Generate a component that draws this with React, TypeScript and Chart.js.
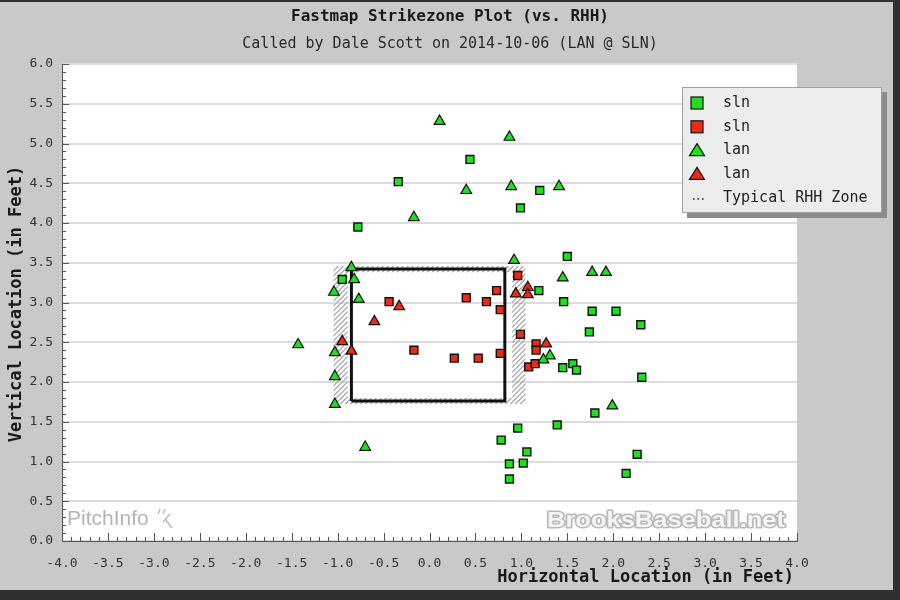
import { useEffect, useRef } from 'react';
import { Chart, registerables } from 'chart.js';

Chart.register(...registerables);

// ---------- data ----------
const titleText = 'Fastmap Strikezone Plot (vs. RHH)';
const subtitleText = 'Called by Dale Scott on 2014-10-06 (LAN @ SLN)';
const xAxisTitle = 'Horizontal Location (in Feet)';
const yAxisTitle = 'Vertical Location (in Feet)';

const xMin = -4.0;
const xMax = 4.0;
const yMin = 0.0;
const yMax = 6.0;
const tickStep = 0.5;
const minorStep = 0.1;

// sln (green squares)
const slnGreenX = [-0.34, -0.78, 0.44, 0.99, 1.20, 1.50, 1.19, 1.46, 1.77, 2.03, 1.74, 2.30, 1.45, 1.56, 1.60, 2.31, -0.95, 1.80, 1.39, 0.96, 0.78, 1.06, 0.87, 1.02, 0.87, 2.26, 2.14];
const slnGreenY = [4.52, 3.95, 4.80, 4.19, 4.41, 3.58, 3.15, 3.01, 2.89, 2.89, 2.63, 2.72, 2.18, 2.23, 2.15, 2.06, 3.29, 1.61, 1.46, 1.42, 1.27, 1.12, 0.97, 0.98, 0.78, 1.09, 0.85];

// sln (red squares)
const slnRedX = [-0.44, -0.17, 0.40, 0.73, 0.62, 0.77, 0.27, 0.53, 0.77, 0.96, 0.99, 1.16, 1.16, 1.08, 1.15];
const slnRedY = [3.01, 2.40, 3.06, 3.15, 3.01, 2.91, 2.30, 2.30, 2.36, 3.34, 2.60, 2.48, 2.40, 2.19, 2.23];

// lan (green triangles)
const lanGreenX = [0.11, 0.87, 0.40, 0.89, 1.41, -0.17, 0.92, 1.77, 1.92, 1.45, 1.99, 1.31, 1.24, -0.85, -0.82, -1.04, -0.77, -1.43, -1.03, -1.03, -1.03, -0.70];
const lanGreenY = [5.28, 5.08, 4.41, 4.46, 4.46, 4.07, 3.53, 3.38, 3.38, 3.31, 1.70, 2.33, 2.28, 3.44, 3.29, 3.13, 3.04, 2.47, 2.37, 2.07, 1.72, 1.18];

// lan (red triangles)
const lanRedX = [-0.33, -0.60, -0.95, -0.85, 0.94, 1.07, 1.07, 1.27];
const lanRedY = [2.95, 2.76, 2.51, 2.39, 3.11, 3.19, 3.10, 2.48];

// called zone (black box)
const zoneX = [-0.85, -0.85, 0.82, 0.82, -0.85];
const zoneY = [1.76, 3.42, 3.42, 1.76, 1.76];

// typical RHH zone band (outer / inner edges)
const typicalOuterX = [-1.045, 1.045];
const typicalOuterY = [1.72, 3.46];
const typicalInnerX = [-0.89, 0.90];
const typicalInnerY = [1.80, 3.38];

const legendLabels = ['sln', 'sln', 'lan', 'lan', 'Typical RHH Zone'];

const GREEN = '#1ee01e';
const RED = '#ee2a12';

const toPoints = (xs: number[], ys: number[]) => xs.map((x, i) => ({ x, y: ys[i] }));

const MONO = '"DejaVu Sans Mono", monospace';

const backgroundPlugin = {
  id: 'bgPlugin',
  beforeDraw(chart: any) {
    const { ctx, chartArea, width, height } = chart;
    ctx.save();
    ctx.fillStyle = '#303030';
    ctx.fillRect(0, 0, width, height);
    ctx.fillStyle = '#c9c9c9';
    ctx.fillRect(0, 2, 893, 588);
    ctx.fillStyle = '#ffffff';
    ctx.fillRect(chartArea.left, chartArea.top, chartArea.right - chartArea.left, chartArea.bottom - chartArea.top);

    // titles
    ctx.fillStyle = '#1a1a1a';
    ctx.textAlign = 'center';
    ctx.textBaseline = 'middle';
    ctx.font = `bold 16px ${MONO}`;
    ctx.fillText(titleText, 450, 17);
    ctx.font = `15px ${MONO}`;
    ctx.fillStyle = '#2a2a2a';
    ctx.fillText(subtitleText, 450, 44);

    // axis titles
    ctx.font = `bold 17px ${MONO}`;
    ctx.fillStyle = '#1a1a1a';
    ctx.textAlign = 'right';
    ctx.fillText(xAxisTitle, chartArea.right - 3, 578);
    ctx.save();
    ctx.translate(17, 304);
    ctx.rotate(-Math.PI / 2);
    ctx.textAlign = 'center';
    ctx.fillText(yAxisTitle, 0, 0);
    ctx.restore();
    ctx.restore();
  },
};

const hatchPlugin = {
  id: 'hatchPlugin',
  beforeDatasetsDraw(chart: any) {
    const { ctx, scales } = chart;
    const x = scales.x;
    const y = scales.y;
    const ox1 = x.getPixelForValue(typicalOuterX[0]);
    const ox2 = x.getPixelForValue(typicalOuterX[1]);
    const oy1 = y.getPixelForValue(typicalOuterY[1]);
    const oy2 = y.getPixelForValue(typicalOuterY[0]);
    const ix1 = x.getPixelForValue(typicalInnerX[0]);
    const ix2 = x.getPixelForValue(typicalInnerX[1]);
    const iy1 = y.getPixelForValue(typicalInnerY[1]);
    const iy2 = y.getPixelForValue(typicalInnerY[0]);
    ctx.save();
    ctx.beginPath();
    ctx.rect(ox1, oy1, ox2 - ox1, oy2 - oy1);
    ctx.rect(ix1, iy1, ix2 - ix1, iy2 - iy1);
    ctx.clip('evenodd');
    ctx.strokeStyle = '#a8a8a8';
    ctx.lineWidth = 1.3;
    ctx.beginPath();
    const h = oy2 - oy1;
    for (let d = -h; d < ox2 - ox1 + h; d += 5) {
      ctx.moveTo(ox1 + d, oy2);
      ctx.lineTo(ox1 + d + h, oy1);
    }
    ctx.stroke();
    ctx.restore();

    // watermarks
    const ca = chart.chartArea;
    ctx.save();
    ctx.textBaseline = 'middle';
    ctx.textAlign = 'left';
    ctx.font = '21px "Liberation Sans", Arial, sans-serif';
    ctx.fillStyle = '#b4b4b4';
    ctx.fillText('PitchInfo', ca.left + 5, 519);
    ctx.strokeStyle = '#bdbdbd';
    ctx.lineWidth = 1.5;
    ctx.beginPath();
    ctx.moveTo(160, 509); ctx.lineTo(158, 514);
    ctx.moveTo(165, 509); ctx.lineTo(163, 514);
    ctx.moveTo(170, 514); ctx.lineTo(163, 522);
    ctx.moveTo(165, 519); ctx.lineTo(172, 528);
    ctx.stroke();

    ctx.font = 'bold 22px "Liberation Sans", Arial, sans-serif';
    const wm = 'BrooksBaseball.net';
    const w = ctx.measureText(wm).width;
    const target = 238;
    ctx.translate(ca.right - 12 - target, 521);
    ctx.scale(target / w, 1);
    ctx.lineWidth = 3;
    ctx.strokeStyle = '#b8b8b8';
    ctx.lineJoin = 'round';
    ctx.strokeText(wm, 0, 0);
    ctx.fillStyle = '#f4f4f4';
    ctx.fillText(wm, 0, 0);
    ctx.restore();
  },
};

const ticksPlugin = {
  id: 'ticksPlugin',
  afterDatasetsDraw(chart: any) {
    const { ctx, scales, chartArea } = chart;
    ctx.save();
    ctx.strokeStyle = '#555555';
    ctx.lineWidth = 1;
    ctx.beginPath();
    const nY = Math.round((yMax - yMin) / minorStep);
    for (let i = 0; i <= nY; i++) {
      const v = yMin + i * minorStep;
      const py = Math.round(scales.y.getPixelForValue(v)) + 0.5;
      const len = i % 5 === 0 ? 7 : 4;
      ctx.moveTo(chartArea.left, py);
      ctx.lineTo(chartArea.left + len, py);
    }
    const nX = Math.round((xMax - xMin) / minorStep);
    for (let i = 0; i <= nX; i++) {
      const v = xMin + i * minorStep;
      const px = Math.round(scales.x.getPixelForValue(v)) + 0.5;
      const len = i % 5 === 0 ? 8 : 4;
      ctx.moveTo(px, chartArea.bottom);
      ctx.lineTo(px, chartArea.bottom - len);
    }
    ctx.stroke();
    ctx.restore();
  },
};

const legendPlugin = {
  id: 'customLegend',
  afterDraw(chart: any) {
    const { ctx } = chart;
    const lx = 682;
    const ly = 87;
    const lw = 200;
    const lh = 126;
    ctx.save();
    ctx.fillStyle = '#8c8c8c';
    ctx.fillRect(lx + 5, ly + 5, lw, lh);
    ctx.fillStyle = '#ececec';
    ctx.fillRect(lx, ly, lw, lh);
    ctx.strokeStyle = '#a0a0a0';
    ctx.lineWidth = 1;
    ctx.strokeRect(lx + 0.5, ly + 0.5, lw - 1, lh - 1);

    const colors = [GREEN, RED, GREEN, RED];
    const mx = 697;
    ctx.font = `15px ${MONO}`;
    ctx.textBaseline = 'middle';
    ctx.textAlign = 'left';
    legendLabels.forEach((label, i) => {
      const cy = 103 + i * 23.8;
      ctx.lineWidth = 1.2;
      ctx.strokeStyle = '#111';
      if (i < 2) {
        ctx.fillStyle = colors[i];
        ctx.fillRect(mx - 6, cy - 6, 12, 12);
        ctx.strokeRect(mx - 6, cy - 6, 12, 12);
      } else if (i < 4) {
        ctx.fillStyle = colors[i];
        ctx.beginPath();
        ctx.moveTo(mx, cy - 7);
        ctx.lineTo(mx + 7.5, cy + 5);
        ctx.lineTo(mx - 7.5, cy + 5);
        ctx.closePath();
        ctx.fill();
        ctx.stroke();
      } else {
        ctx.fillStyle = '#333';
        for (let k = 0; k < 3; k++) {
          ctx.fillRect(mx - 4 + k * 4.5, cy, 1.6, 1.6);
        }
      }
      ctx.fillStyle = '#222';
      ctx.fillText(label, 723, cy);
    });
    ctx.restore();
  },
};

export default function App() {
  const canvasRef = useRef<HTMLCanvasElement | null>(null);

  useEffect(() => {
    document.body.style.margin = '0';
    const canvas = canvasRef.current;
    if (!canvas) return;
    const chart = new Chart(canvas, {
      type: 'scatter',
      data: {
        datasets: [
          {
            label: 'sln',
            data: toPoints(slnGreenX, slnGreenY),
            pointStyle: 'rect',
            pointRadius: 5.6,
            backgroundColor: GREEN,
            borderColor: '#111',
            borderWidth: 1.4,
            order: 1,
          },
          {
            label: 'sln',
            data: toPoints(slnRedX, slnRedY),
            pointStyle: 'rect',
            pointRadius: 5.6,
            backgroundColor: RED,
            borderColor: '#111',
            borderWidth: 1.4,
            order: 1,
          },
          {
            label: 'lan',
            data: toPoints(lanGreenX, lanGreenY),
            pointStyle: 'triangle',
            pointRadius: 6.2,
            backgroundColor: GREEN,
            borderColor: '#111',
            borderWidth: 1.2,
            order: 0,
          },
          {
            label: 'lan',
            data: toPoints(lanRedX, lanRedY),
            pointStyle: 'triangle',
            pointRadius: 6.2,
            backgroundColor: RED,
            borderColor: '#111',
            borderWidth: 1.2,
            order: 0,
          },
          {
            label: 'zone',
            data: toPoints(zoneX, zoneY),
            showLine: true,
            pointRadius: 0,
            borderColor: '#111111',
            borderWidth: 3,
            fill: false,
            order: 5,
          } as any,
        ],
      },
      options: {
        animation: false,
        responsive: true,
        maintainAspectRatio: false,
        layout: { padding: { top: 64, right: 103, left: 0, bottom: 0 } },
        plugins: {
          legend: { display: false },
          title: { display: false },
          tooltip: { enabled: false },
        },
        scales: {
          x: {
            type: 'linear',
            min: xMin,
            max: xMax,
            afterFit: (scale: any) => {
              scale.height = 59;
            },
            ticks: {
              stepSize: tickStep,
              autoSkip: false,
              maxRotation: 0,
              padding: 15,
              color: '#333',
              font: { family: MONO, size: 13 },
              callback: (v: any) => Number(v).toFixed(1),
            },
            grid: { display: false, drawTicks: false },
            border: { display: true, color: '#555', width: 1 },
          },
          y: {
            type: 'linear',
            min: yMin,
            max: yMax,
            afterFit: (scale: any) => {
              scale.width = 62;
            },
            ticks: {
              stepSize: tickStep,
              padding: 9,
              color: '#333',
              font: { family: MONO, size: 13 },
              callback: (v: any) => Number(v).toFixed(1),
            },
            grid: { color: '#dcdcdc', lineWidth: 2, drawTicks: false },
            border: { display: true, color: '#555', width: 1 },
          },
        },
      },
      plugins: [backgroundPlugin, hatchPlugin, ticksPlugin, legendPlugin],
    });
    return () => chart.destroy();
  }, []);

  return (
    <div style={{ width: 900, height: 600, position: 'relative' }}>
      <canvas ref={canvasRef} />
    </div>
  );
}
